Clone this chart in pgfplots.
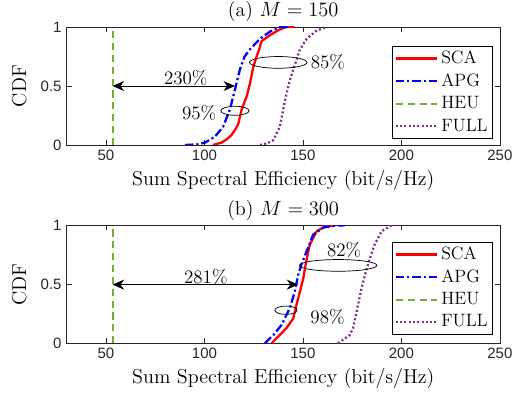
\documentclass[border=0pt]{standalone}
\usepackage{fontspec}
\newfontfamily\ticksf{Liberation Sans}
\usepackage{pgfplots}
\pgfplotsset{compat=1.18}
\usetikzlibrary{arrows.meta}
\definecolor{heugreen}{RGB}{119,172,48}
\definecolor{fullpurple}{RGB}{126,47,142}
\definecolor{axgray}{RGB}{38,38,38}

\pgfplotsset{
  legend image code/.code={\draw[#1] (0pt,0pt) -- (29pt,0pt);},
  every axis title shift=0pt,
  cdfpanel/.style={
    width=303.3pt, height=82.6pt, scale only axis,
    xmin=30, xmax=250, ymin=0, ymax=1,
    xtick={50,100,150,200,250}, ytick={0,0.5,1},
    tick align=inside, major tick length=3.5pt,
    axis line style={axgray, line width=0.4pt}, tick style={axgray, line width=0.4pt},
    tick label style={font=\ticksf\fontsize{10.5}{12}\selectfont, text=axgray},
    /pgf/number format/assume math mode=true,
    label style={font=\fontsize{14.1}{16}\selectfont},
    title style={font=\fontsize{14.1}{16}\selectfont},
    xlabel={Sum Spectral Efficiency (bit/s/Hz)},
    ylabel={CDF}, ylabel shift=3pt,
    legend cell align=left,
    legend style={font=\fontsize{12.5}{14}\selectfont, anchor=north east,
      draw=black, line width=0.4pt, inner sep=1.5pt, row sep=1.5pt},
  },
  scaline/.style={red, line width=1.6pt},
  apgline/.style={blue, line width=1.6pt, dash pattern=on 6pt off 2pt on 1.5pt off 2pt},
  heuline/.style={heugreen, line width=1.5pt, dash pattern=on 5pt off 3.3pt},
  fullline/.style={fullpurple, line width=1.6pt, dash pattern=on 1.4pt off 1.6pt},
}
\tikzset{note/.style={font=\fontsize{13.3}{15}\selectfont},
  dbl/.style={{Stealth[length=8pt,width=7pt,inset=2.5pt]}-{Stealth[length=8pt,width=7pt,inset=2.5pt]}, line width=0.5pt}}

\begin{document}
\begin{tikzpicture}
\useasboundingbox (0,0) rectangle (359.8pt,280.7pt);

% (a) M = 150
\begin{axis}[cdfpanel, at={(46.6pt,179.2pt)}, anchor=south west,
  title={(a) $M=150$},
  legend style={at={(0.984,0.84)}}]
  \addplot[scaline] coordinates {(104.2,0) (108.7,0.02) (111.5,0.05) (113.8,0.085) (116,0.14) (117.2,0.18) (118.9,0.30) (121.4,0.41) (123.1,0.52) (124.8,0.66) (126.5,0.75) (127.8,0.81) (129,0.88) (133.2,0.93) (138.3,0.98) (141.7,1) (145.8,1)};
  \addlegendentry{SCA}
  \addplot[apgline] coordinates {(90.1,0) (96,0.005) (100.3,0.02) (105.3,0.07) (109.5,0.155) (112.9,0.30) (115.5,0.47) (118,0.64) (120.4,0.75) (123.1,0.81) (128.2,0.90) (133.2,0.96) (138.3,1) (142.7,1)};
  \addlegendentry{APG}
  \addplot[heuline] coordinates {(53.4,0) (53.4,1)};
  \addlegendentry{HEU}
  \addplot[fullline] coordinates {(128.2,0) (132,0.015) (134.9,0.04) (138.3,0.155) (140.9,0.38) (143.4,0.55) (145.9,0.68) (148.5,0.81) (151.9,0.90) (157,0.97) (162,1)};
  \addlegendentry{FULL}
  \draw[dbl] (axis cs:53.4,0.5) -- (axis cs:115.5,0.5);
  \node[note] at (axis cs:90.5,0.572) {230\%};
  \draw[line width=0.5pt] (axis cs:115.5,0.29) ellipse [x radius=9.9pt, y radius=3.15pt];
  \node[note] at (axis cs:97.3,0.268) {95\%};
  \draw[line width=0.5pt] (axis cs:137.5,0.70) ellipse [x radius=20.1pt, y radius=4.1pt];
  \node[note] at (axis cs:162.7,0.70) {85\%};
\end{axis}

% (b) M = 300
\begin{axis}[cdfpanel, at={(46.6pt,40.4pt)}, anchor=south west,
  title={(b) $M=300$},
  legend style={at={(0.984,0.86)}}]
  \addplot[scaline] coordinates {(134.1,0) (137.5,0.057) (141.7,0.13) (145.1,0.21) (146.8,0.33) (148.5,0.44) (150.2,0.55) (151.4,0.67) (152.5,0.76) (153.6,0.84) (157,0.95) (161.2,0.99) (166.3,1)};
  \addlegendentry{SCA}
  \addplot[apgline] coordinates {(130.7,0) (135,0.07) (139.2,0.156) (143.4,0.30) (145.9,0.44) (147.6,0.58) (149.3,0.67) (151.9,0.78) (155.2,0.92) (160.3,0.98) (165,0.995) (171.3,1)};
  \addlegendentry{APG}
  \addplot[heuline] coordinates {(53.4,0) (53.4,1)};
  \addlegendentry{HEU}
  \addplot[fullline] coordinates {(167.9,0) (173.8,0.07) (175.5,0.13) (177.3,0.27) (179.8,0.47) (181.5,0.58) (184,0.72) (186.5,0.84) (190,0.95) (195,1)};
  \addlegendentry{FULL}
  \draw[dbl] (axis cs:53.4,0.497) -- (axis cs:147.6,0.497);
  \node[note] at (axis cs:100.7,0.563) {281\%};
  \draw[line width=0.5pt] (axis cs:141.4,0.28) ellipse [x radius=7.8pt, y radius=2.9pt];
  \node[note] at (axis cs:162.5,0.22) {98\%};
  \draw[line width=0.5pt] (axis cs:167.9,0.66) ellipse [x radius=27.1pt, y radius=4.1pt];
  \node[note] at (axis cs:170.9,0.789) {82\%};
\end{axis}
\end{tikzpicture}
\end{document}
